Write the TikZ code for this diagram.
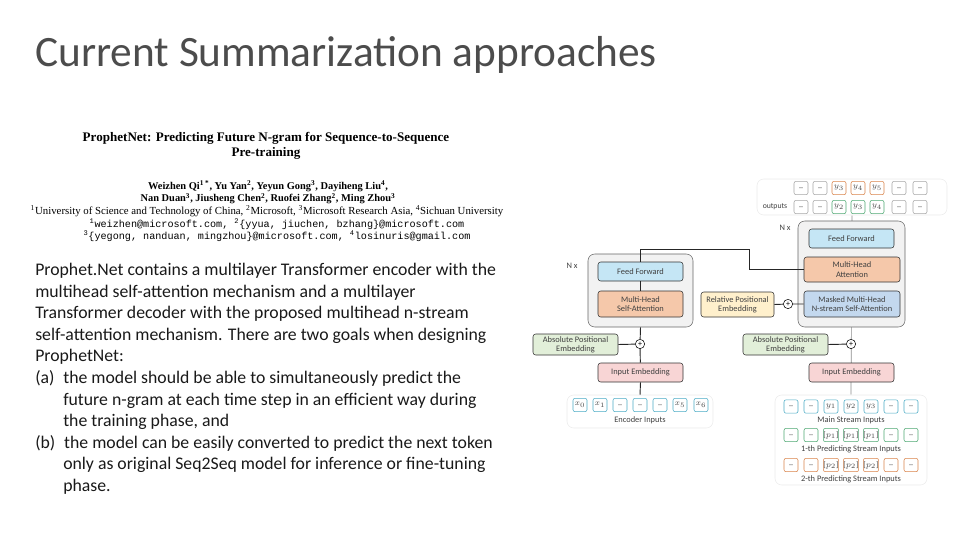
\documentclass[tikz,border=0pt]{standalone}
\usepackage{fontspec}
\setmainfont{Carlito}
\newfontfamily\paperserif{Liberation Serif}
\newfontfamily\papermono{Liberation Mono}
\usetikzlibrary{backgrounds}
\definecolor{cff}{HTML}{C5E6F5}
\definecolor{cmha}{HTML}{F5C8AA}
\definecolor{cmask}{HTML}{C3D8EE}
\definecolor{crel}{HTML}{FFF0CC}
\definecolor{cabs}{HTML}{E2EFD9}
\definecolor{cin}{HTML}{F8D5D5}
\definecolor{cblk}{HTML}{F2F2F2}
\definecolor{ccyan}{HTML}{4BACC6}
\definecolor{cgreen}{HTML}{4EA872}
\definecolor{corange}{HTML}{D9834A}
\definecolor{cgray}{HTML}{A6A6A6}
\tikzset{
  box/.style={draw=black!80, rounded corners=2pt, align=center, inner sep=0pt, text=black!75,
    font=\fontsize{6.3}{7}\selectfont},
  blk/.style={draw=black!60, fill=cblk, rounded corners=5pt, inner sep=0pt},
  panel/.style={draw=black!8, fill=white, rounded corners=5pt, inner sep=0pt},
  cell/.style={draw=#1, fill=white, rounded corners=1.5pt, inner sep=0pt, minimum width=10.5pt, minimum height=10pt,
    font=\fontsize{6}{6}\selectfont, text=black!70},
  plus/.style={draw=black, fill=white, circle, inner sep=0pt, minimum size=7pt, font=\fontsize{6}{6}\selectfont},
  lbl/.style={font=\fontsize{6.3}{7}\selectfont, text=black!75, inner sep=0pt},
  conn/.style={draw=black!85, line width=0.7pt}
}
\begin{document}
\begin{tikzpicture}[x=0.75pt,y=-0.75pt]
\useasboundingbox (0,0) rectangle (960,540);
\node[anchor=base west, inner sep=0pt, font=\fontsize{32.5}{34}\selectfont, text=black!70] (title) at (35,66) {Current Summarization approaches};
% paper header
\node[inner sep=0pt, align=center, font=\paperserif\bfseries\fontsize{9.8}{11.3}\selectfont] (ptitle) at (266,146) {ProphetNet: Predicting Future N-gram for Sequence-to-Sequence\\Pre-training};
\node[inner sep=0pt, align=center, font=\paperserif\bfseries\fontsize{7.8}{9.5}\selectfont] (pauth) at (268,192.5) {Weizhen Qi\textsuperscript{1 *}, Yu Yan\textsuperscript{2}, Yeyun Gong\textsuperscript{3}, Dayiheng Liu\textsuperscript{4},\\Nan Duan\textsuperscript{3}, Jiusheng Chen\textsuperscript{2}, Ruofei Zhang\textsuperscript{2}, Ming Zhou\textsuperscript{3}};
\node[inner sep=0pt, font=\paperserif\fontsize{8.1}{9}\selectfont] (puniv) at (267,211) {\textsuperscript{1}University of Science and Technology of China, \textsuperscript{2}Microsoft, \textsuperscript{3}Microsoft Research Asia, \textsuperscript{4}Sichuan University};
\node[inner sep=0pt, align=center, font=\papermono\fontsize{7.6}{9.2}\selectfont] (pmail) at (277,230) {\textsuperscript{1}weizhen@microsoft.com, \textsuperscript{2}\{yyua, jiuchen, bzhang\}@microsoft.com\\\textsuperscript{3}\{yegong, nanduan, mingzhou\}@microsoft.com, \textsuperscript{4}losinuris@gmail.com};
% body
\node[anchor=north west, inner sep=0pt, align=left, font=\fontsize{13.3}{16.2}\selectfont, text=black!90] (body) at (35,263) {Prophet.Net contains a multilayer Transformer encoder with the\\
multihead self-attention mechanism and a multilayer\\
Transformer decoder with the proposed multihead n-stream\\
self-attention mechanism. There are two goals when designing\\
ProphetNet:\\
(a)\hspace{0.5em}the model should be able to simultaneously predict the\\
\hspace*{21pt}future n-gram at each time step in an efficient way during\\
\hspace*{21pt}the training phase, and\\
(b)\hspace{0.5em}the model can be easily converted to predict the next token\\
\hspace*{21pt}only as original Seq2Seq model for inference or fine-tuning\\
\hspace*{21pt}phase.};
% diagram panels
\node[panel, minimum width=190*0.75pt, minimum height=36*0.75pt] (outp) at (852,197) {};
\node[blk, minimum width=107*0.75pt, minimum height=106*0.75pt] (decblk) at (851.5,274) {};
\node[blk, minimum width=105*0.75pt, minimum height=73*0.75pt] (encblk) at (640.5,290.5) {};
\node[panel, minimum width=146*0.75pt, minimum height=33*0.75pt] (encp) at (640,411.5) {};
\node[panel, minimum width=152*0.75pt, minimum height=90*0.75pt] (decp) at (851,440) {};
\node[lbl] (nxd) at (785,228) {N x};
\node[lbl] (nxe) at (572,266) {N x};
% decoder
\node[box, fill=cff, minimum width=85*0.75pt, minimum height=19*0.75pt] (decff) at (851.5,238.5) {Feed Forward};
\node[box, fill=cmha, minimum width=96*0.75pt, minimum height=25*0.75pt] (decmha) at (852,269.5) {Multi-Head\\Attention};
\node[box, fill=cmask, minimum width=96*0.75pt, minimum height=26*0.75pt] (decmask) at (852,304) {Masked Multi-Head\\N-stream Self-Attention};
% encoder
\node[box, fill=cff, minimum width=85*0.75pt, minimum height=19*0.75pt] (encff) at (640.5,271.5) {Feed Forward};
\node[box, fill=cmha, minimum width=85*0.75pt, minimum height=26*0.75pt] (encmha) at (640.5,304) {Multi-Head\\Self-Attention};
\node[box, fill=crel, minimum width=73*0.75pt, minimum height=25*0.75pt] (rel) at (737.5,304.5) {Relative Positional\\Embedding};
\node[plus] (plusrel) at (788,304) {+};
\node[box, fill=cabs, minimum width=85*0.75pt, minimum height=21*0.75pt] (absl) at (575.5,344.5) {Absolute Positional\\Embedding};
\node[plus] (plusl) at (640,344) {+};
\node[box, fill=cin, minimum width=85*0.75pt, minimum height=19*0.75pt] (inl) at (640.5,372.5) {Input Embedding};
\node[box, fill=cabs, minimum width=85*0.75pt, minimum height=21*0.75pt] (absr) at (785.5,344.5) {Absolute Positional\\Embedding};
\node[plus] (plusr) at (851,344) {+};
\node[box, fill=cin, minimum width=85*0.75pt, minimum height=19*0.75pt] (inr) at (851.5,372.5) {Input Embedding};
% connectors
\begin{scope}[on background layer]
\draw[draw=black!45, line width=0.5pt] (decp.north) -- (outp.south);
\end{scope}
\draw[conn] (encmha) -- (encff);
\draw[conn] (encblk.south) -- (plusl);
\draw[conn] (plusl) -- (inl);
\draw[conn] (absl.east) -- (plusl);
\draw[conn] (inl.south) -- (encp.north);
\draw[conn] (encff.north) |- (749,249) |- (decmha.west);
\draw[conn] (rel.east) -- (plusrel) -- (decmask.west);
\draw[conn] (absr.east) -- (plusr);
% outputs cells
\node[lbl, font=\fontsize{5.8}{6}\selectfont] (outlbl) at (775,207) {outputs};
\foreach \x/\t/\c [count=\i] in {801/\_/cgray,820/\_/cgray,839/$y_3$/corange,858/$y_4$/corange,877/$y_5$/corange,899/\_/cgray,920/\_/cgray}
  \node[cell=\c] (oa\i) at (\x,188) {\t};
\foreach \x/\t/\c [count=\i] in {801/\_/cgray,820/\_/cgray,839/$y_2$/cgreen,858/$y_3$/cgreen,877/$y_4$/cgreen,899/\_/cgray,920/\_/cgray}
  \node[cell=\c] (ob\i) at (\x,207) {\t};
% encoder inputs
\foreach \x/\t [count=\i] in {580/$x_0$,600/$x_1$,620/\_,640/\_,660/\_,680/$x_5$,701/$x_6$}
  \node[cell=ccyan] (ei\i) at (\x,405) {\t};
\node[lbl] (eilbl) at (640,420) {Encoder Inputs};
% decoder inputs
\foreach \x/\t [count=\i] in {791/\_,811/\_,831/$y_1$,851/$y_2$,871/$y_3$,891/\_,911/\_}
  \node[cell=ccyan] (da\i) at (\x,406.5) {\t};
\node[lbl] (dalbl) at (851,420) {Main Stream Inputs};
\foreach \x/\t [count=\i] in {791/\_,811/\_,831/{[$p_1$]},851/{[$p_1$]},871/{[$p_1$]},891/\_,911/\_}
  \node[cell=cgreen] (db\i) at (\x,435) {\t};
\node[lbl] (dblbl) at (851,449) {1-th Predicting Stream Inputs};
\foreach \x/\t [count=\i] in {791/\_,811/\_,831/{[$p_2$]},851/{[$p_2$]},871/{[$p_2$]},891/\_,911/\_}
  \node[cell=corange] (dc\i) at (\x,465) {\t};
\node[lbl] (dclbl) at (851,479) {2-th Predicting Stream Inputs};
\end{tikzpicture}
\end{document}
